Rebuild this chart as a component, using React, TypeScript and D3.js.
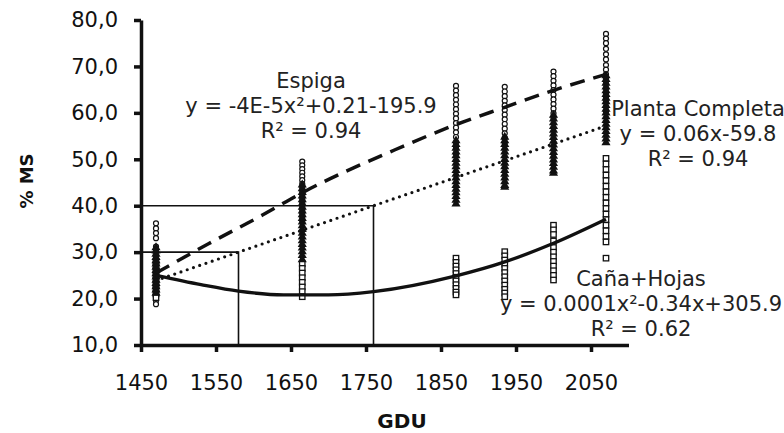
import * as d3 from "d3";
import { useEffect, useRef } from "react";

// GDU levels at which samples were taken
const gduLevels = [1470, 1665, 1870, 1935, 2000, 2070];

// % MS per sample, one list per GDU level
const espigaMs = [
  [36.2, 35.1, 34.1, 33.0, 31.2, 30.2, 29.3, 28.4, 27.5, 26.6, 25.7, 24.8, 23.9, 23.0, 22.1, 21.2, 20.4, 19.6, 18.8],
  [49.5, 48.7, 47.9, 47.1, 46.3, 45.5, 44.7, 43.9, 43.1, 42.3, 41.5, 40.7, 39.9, 39.1, 38.3, 37.5, 36.5],
  [65.8, 64.8, 63.8, 62.8, 61.8, 60.8, 59.8, 58.8, 57.8, 56.8, 55.8, 54.8, 53.6, 52.4, 51.2],
  [65.6, 64.6, 63.6, 62.6, 61.6, 60.6, 59.6, 58.6, 57.6, 56.6, 55.6, 54.6, 53.5],
  [68.9, 67.9, 66.9, 65.9, 64.9, 63.9, 62.9, 61.9, 60.9, 59.9, 59.0],
  [77.0, 76.0, 75.0, 73.8, 72.6, 71.5, 70.3, 69.3, 68.3, 67.3, 66.3, 65.3, 64.3, 63.3, 62.3, 61.3, 60.3],
];

const plantaMs = [
  [31.0, 30.3, 29.6, 28.9, 28.2, 27.5, 26.8, 26.1, 25.4, 24.7, 24.0, 23.3, 22.6, 21.9, 21.2],
  [44.5, 43.7, 42.9, 42.1, 41.3, 40.5, 39.7, 38.9, 38.1, 37.3, 36.5, 35.7, 34.9, 34.1, 33.3, 32.5, 31.7, 30.9, 30.1, 29.3, 28.4],
  [54.0, 53.2, 52.4, 51.6, 50.8, 50.0, 49.2, 48.4, 47.6, 46.8, 46.0, 45.2, 44.4, 43.6, 42.8, 42.0, 41.2, 40.4],
  [54.8, 54.0, 53.2, 52.4, 51.6, 50.8, 50.0, 49.2, 48.4, 47.6, 46.8, 46.0, 45.2, 44.4, 44.0],
  [59.5, 58.7, 57.9, 57.1, 56.3, 55.5, 54.7, 53.9, 53.1, 52.3, 51.5, 50.7, 49.9, 49.1, 48.3, 47.5, 47.0],
  [68.0, 67.2, 66.4, 65.6, 64.8, 64.0, 63.2, 62.4, 61.6, 60.8, 60.0, 59.2, 58.4, 57.6, 56.8, 56.0, 55.2, 54.4, 53.6],
];

const canaMs = [
  [28.0, 27.0, 26.0, 25.0, 24.0, 23.0, 22.0, 21.0, 20.2],
  [27.5, 26.5, 25.5, 24.5, 23.5, 22.5, 21.5, 20.4],
  [28.7, 27.8, 27.0, 26.2, 25.4, 24.6, 23.8, 23.0, 22.2, 21.4, 20.8],
  [30.1, 29.2, 28.3, 27.4, 26.5, 25.6, 24.7, 23.8, 22.9, 22.0, 21.2, 20.4],
  [35.8, 34.8, 33.8, 32.4, 31.0, 30.0, 29.0, 28.0, 27.0, 26.0, 25.0, 24.0],
  [50.2, 49.0, 47.8, 46.6, 45.4, 44.2, 43.0, 41.8, 40.6, 39.4, 38.2, 37.0, 35.8, 34.6, 33.4, 32.2, 28.7],
];

// fitted curves
const espigaFitGdu = [1470, 1540, 1612, 1665, 1788, 1872, 1935, 1997, 2070];
const espigaFitMs = [25.5, 31.8, 38.0, 42.8, 52.0, 57.6, 61.2, 64.7, 68.3];

const plantaFitGdu = [1470, 2070];
const plantaFitMs = [23.9, 57.2];

const canaFitGdu = [1470, 1530, 1580, 1640, 1700, 1760, 1870, 1935, 2000, 2070];
const canaFitMs = [25.0, 23.0, 21.6, 20.8, 20.8, 21.5, 24.9, 27.9, 31.9, 37.1];

// guide lines
const guideGdu = [1580, 1760];
const guideMs = [30, 40];

const xTicks = [1450, 1550, 1650, 1750, 1850, 1950, 2050];
const yTicks = [10, 20, 30, 40, 50, 60, 70, 80];

const labelLines = [
  { x: 311, y: 88, lines: ["Espiga", "y = -4E-5x²+0.21-195.9", "R² = 0.94"] },
  { x: 698, y: 116, lines: ["Planta Completa", "y = 0.06x-59.8", "R² = 0.94"] },
  { x: 641, y: 286, lines: ["Caña+Hojas", "y = 0.0001x²-0.34x+305.9", "R² = 0.62"] },
];

const font = "DejaVu Sans, Verdana, sans-serif";

export default function App() {
  const ref = useRef<SVGSVGElement>(null);

  useEffect(() => {
    const svg = d3.select(ref.current);
    svg.selectAll("*").remove();

    const x = d3.scaleLinear().domain([1450, 2100]).range([141, 628.5]);
    const y = d3.scaleLinear().domain([10, 80]).range([345, 20]);

    const flat = (arr: number[][]) =>
      arr.flatMap((vals, i) => vals.map(v => ({ g: gduLevels[i], v })));

    // guide lines
    guideGdu.forEach((g, i) => {
      svg.append("path")
        .attr("d", `M${x(1450)},${y(guideMs[i])}H${x(g)}V${y(10)}`)
        .attr("fill", "none")
        .attr("stroke", "#111")
        .attr("stroke-width", 1.6);
    });

    // points: circles, squares, then triangles on top
    svg.append("g")
      .selectAll("circle")
      .data(flat(espigaMs))
      .join("circle")
      .attr("cx", d => x(d.g))
      .attr("cy", d => y(d.v))
      .attr("r", 2.5)
      .attr("fill", "#fff")
      .attr("stroke", "#111")
      .attr("stroke-width", 1.2);

    svg.append("g")
      .selectAll("rect")
      .data(flat(canaMs))
      .join("rect")
      .attr("x", d => x(d.g) - 2.7)
      .attr("y", d => y(d.v) - 2.7)
      .attr("width", 5.4)
      .attr("height", 5.4)
      .attr("fill", "#fff")
      .attr("stroke", "#111")
      .attr("stroke-width", 1.3);

    const tri = d3.symbol().type(d3.symbolTriangle).size(36);
    svg.append("g")
      .selectAll("path")
      .data(flat(plantaMs))
      .join("path")
      .attr("transform", d => `translate(${x(d.g)},${y(d.v)})`)
      .attr("d", tri)
      .attr("fill", "#111");

    // fitted lines
    const line = d3.line<[number, number]>()
      .x(d => x(d[0]))
      .y(d => y(d[1]))
      .curve(d3.curveMonotoneX);

    svg.append("path")
      .attr("d", line(espigaFitGdu.map((g, i) => [g, espigaFitMs[i]])))
      .attr("fill", "none")
      .attr("stroke", "#111")
      .attr("stroke-width", 3.5)
      .attr("stroke-dasharray", "15 9");

    svg.append("path")
      .attr("d", line(plantaFitGdu.map((g, i) => [g, plantaFitMs[i]])))
      .attr("fill", "none")
      .attr("stroke", "#111")
      .attr("stroke-width", 3.2)
      .attr("stroke-linecap", "round")
      .attr("stroke-dasharray", "0 6.6");

    svg.append("path")
      .attr("d", line(canaFitGdu.map((g, i) => [g, canaFitMs[i]])))
      .attr("fill", "none")
      .attr("stroke", "#111")
      .attr("stroke-width", 3.3);

    // axes
    const yAxis = d3.axisLeft(y)
      .tickValues(yTicks)
      .tickFormat(d => (d as number).toFixed(1).replace(".", ","))
      .tickSize(7)
      .tickSizeOuter(0)
      .tickPadding(16);

    const xAxis = d3.axisBottom(x)
      .tickValues(xTicks)
      .tickFormat(d3.format("d"))
      .tickSize(7)
      .tickSizeOuter(0)
      .tickPadding(23);

    const gy = svg.append("g")
      .attr("transform", `translate(${x(1450)},0)`)
      .call(yAxis);

    const gx = svg.append("g")
      .attr("transform", `translate(0,${y(10)})`)
      .call(xAxis);

    [gx, gy].forEach(g => {
      g.select(".domain").attr("stroke", "#111").attr("stroke-width", 3.5);
      g.selectAll(".tick line").attr("stroke", "#111").attr("stroke-width", 3.5);
      g.selectAll(".tick text")
        .attr("fill", "#111")
        .style("font-family", font)
        .style("font-size", "21px");
    });

    // axis titles
    svg.append("text")
      .attr("transform", "translate(33,181) rotate(-90)")
      .attr("text-anchor", "middle")
      .style("font-family", font)
      .style("font-size", "18px")
      .style("font-weight", "bold")
      .attr("fill", "#111")
      .text("% MS");

    svg.append("text")
      .attr("x", 402)
      .attr("y", 428)
      .attr("text-anchor", "middle")
      .style("font-family", font)
      .style("font-size", "20px")
      .style("font-weight", "bold")
      .attr("fill", "#111")
      .text("GDU");

    // equation labels
    labelLines.forEach(lbl => {
      lbl.lines.forEach((t, i) => {
        svg.append("text")
          .attr("x", lbl.x)
          .attr("y", lbl.y + i * 25)
          .attr("text-anchor", "middle")
          .style("font-family", font)
          .style("font-size", "21px")
          .attr("fill", "#222")
          .text(t);
      });
    });
  }, []);

  return (
    <svg
      ref={ref}
      width={784}
      height={433}
      style={{ position: "absolute", left: 0, top: 0, background: "#fff" }}
    />
  );
}
